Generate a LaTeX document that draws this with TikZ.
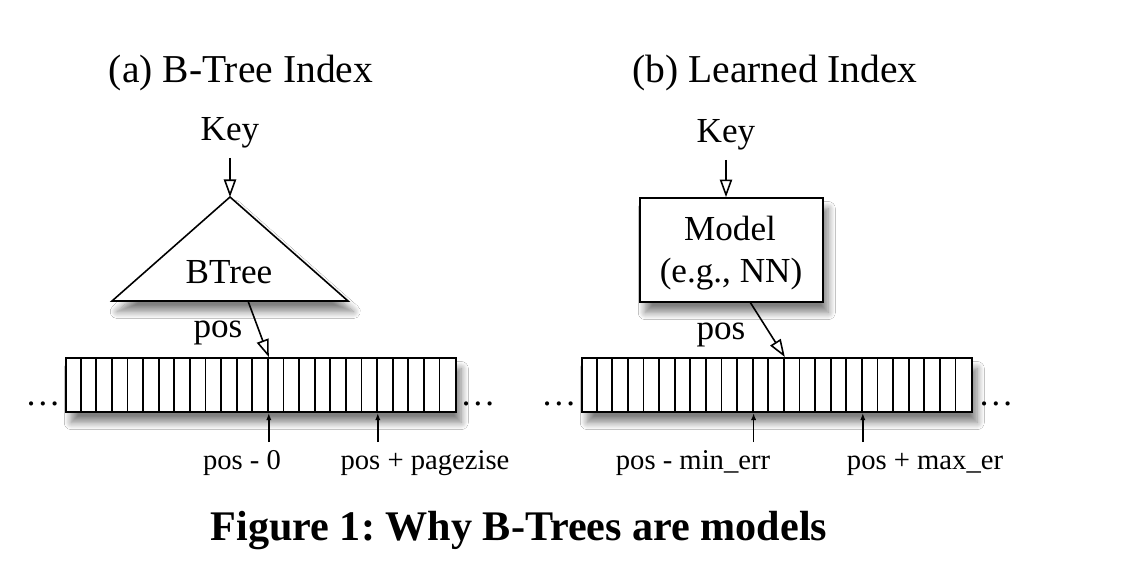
\documentclass[tikz,border=0pt]{standalone}
\usepackage{fontspec}
\setmainfont{Liberation Serif}
\usetikzlibrary{arrows.meta,shadows.blur}

\begin{document}
\begin{tikzpicture}[x=0.02cm,y=-0.02cm,
		txt/.style={font=\fontsize{20}{22}\selectfont, inner sep=0pt, anchor=base},
		ttl/.style={font=\fontsize{22.5}{25}\selectfont, inner sep=0pt, anchor=base},
		small/.style={font=\fontsize{16.3}{18}\selectfont, inner sep=0pt, anchor=base},
		shade/.style={blur shadow={shadow xshift=3pt, shadow yshift=-6pt, shadow blur radius=4pt, shadow blur steps=10, shadow opacity=50}},
		arr/.style={draw, fill=white, line width=1pt, minimum width=7.8cm, minimum height=1.08cm, inner sep=0pt, shade},
		feed/.style={line width=0.9pt, -{Triangle[open,length=10pt,width=7pt]}},
		ptr/.style={line width=0.9pt, -{Latex[length=4pt,width=3pt]}}]
		\useasboundingbox[fill=white] (0,0) rectangle (1139,579);

		% titles
		\node[ttl] (ttlA) at (241,82) {(a) B-Tree Index};
		\node[ttl] (ttlB) at (775,82) {(b) Learned Index};

		% (a) btree side
		\node[txt] (keyA) at (230,140) {Key};
		\coordinate (topA) at (230,197);
		\coordinate (baseL) at (112,301);
		\coordinate (baseR) at (348,301);
		\draw[line width=0.9pt, fill=white, shade] (baseL) -- (topA) -- (baseR) -- cycle;
		\node[txt] (btree) at (229,283) {BTree};
		\draw[feed] ([yshift=-0.2cm]keyA.south) -- (topA);
		\node[txt] (posA) at (218,337) {pos};
		\node[arr] (arrA) at (261,385) {};
		\foreach \i in {1,...,24}
			\draw[line width=1pt] ([xshift=\i*0.312cm]arrA.south west) -- ([xshift=\i*0.312cm]arrA.north west);
		\coordinate (outA) at (248,301);
		\coordinate (inA) at (268.8,357);
		\draw[feed] (outA) -- (inA);
		\node[txt] (dotsAl) at (43,405) {\dots};
		\node[txt] (dotsAr) at (478,405) {\dots};
		\coordinate (loA) at (268.8,442);
		\coordinate (hiA) at (377.8,442);
		\draw[ptr] (loA) -- (268.8,413);
		\draw[ptr] (hiA) -- (377.8,413);
		\node[small] (lblloA) at (242,469) {pos - 0};
		\node[small] (lblhiA) at (425,469) {pos + pagezise};

		% (b) learned side
		\node[txt] (keyB) at (726,142) {Key};
		\node[draw, fill=white, line width=1pt, minimum width=3.66cm, minimum height=2.08cm, shade] (model) at (731.5,250) {};
		\node[txt] (modelA) at (730,240) {Model};
		\node[txt] (modelB) at (731,282) {(e.g., NN)};
		\draw[feed] ([yshift=-0.2cm]keyB.south) -- (model.north -| keyB);
		\node[txt] (posB) at (721,339) {pos};
		\node[arr] (arrB) at (777,385) {};
		\foreach \i in {1,...,24}
			\draw[line width=1pt] ([xshift=\i*0.312cm]arrB.south west) -- ([xshift=\i*0.312cm]arrB.north west);
		\coordinate (outB) at (750,302);
		\coordinate (inB) at (784.8,357);
		\draw[feed] (outB) -- (inB);
		\node[txt] (dotsBl) at (559,405) {\dots};
		\node[txt] (dotsBr) at (996,405) {\dots};
		\coordinate (loB) at (753.6,442);
		\coordinate (hiB) at (862.8,442);
		\draw[ptr] (loB) -- (753.6,413);
		\draw[ptr] (hiB) -- (862.8,413);
		\node[small] (lblloB) at (693,469) {pos - min\_err};
		\node[small] (lblhiB) at (925,469) {pos + max\_er};

		% caption
		\node[font=\bfseries\fontsize{24}{28}\selectfont, inner sep=0pt, anchor=base] (cap) at (519,540) {Figure 1:\ Why B-Trees are models};
\end{tikzpicture}
\end{document}
